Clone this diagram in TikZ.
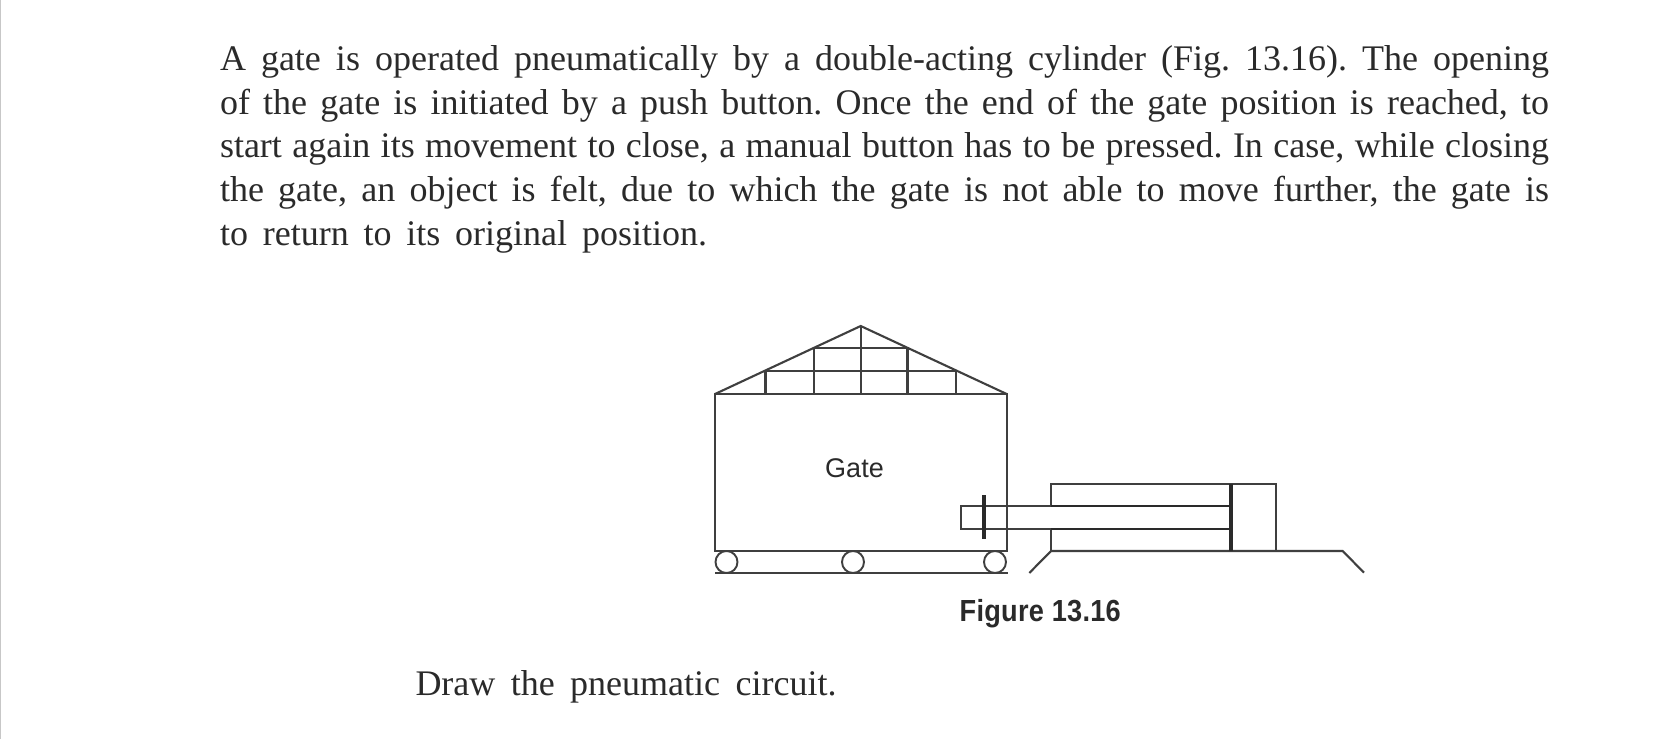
\documentclass[tikz,border=0pt]{standalone}
\usepackage{fontspec}
\setmainfont{Liberation Serif}
\newfontfamily\gatefont{Liberation Sans}
\definecolor{ink}{HTML}{2A2A2A}
\tikzset{
  bodyline/.style={anchor=base west,inner sep=0pt,outer sep=0pt,text=ink,font=\fontsize{36}{43}\selectfont\frenchspacing},
  thinline/.style={draw=ink!90,line width=2.1pt,line join=miter,line cap=butt},
  rodline/.style={draw=ink,line width=2.7pt,line cap=butt},
  thickline/.style={draw=ink,line width=4.4pt},
  roller/.style={draw=ink!90,line width=1.9pt,fill=white}
}
\newcommand{\bline}[2]{\makebox[#1pt][s]{#2}}
\begin{document}
\begin{tikzpicture}[x=1pt,y=-1pt]
\useasboundingbox (0,0) rectangle (1668,739);
\fill[white] (0,0) rectangle (1668,739);
\fill[black!22] (0,0) rectangle (1.2,739);
% text
\node[bodyline] (l1) at (220,70.5) {\bline{1329}{A gate is operated pneumatically by a double-acting cylinder (Fig. 13.16). The opening}};
\node[bodyline] (l2) at (220,114) {\bline{1329}{of the gate is initiated by a push button. Once the end of the gate position is reached, to}};
\node[bodyline] (l3) at (220,157.5) {\bline{1329}{start again its movement to close, a manual button has to be pressed. In case, while closing}};
\node[bodyline] (l4) at (220,201) {\bline{1329}{the gate, an object is felt, due to which the gate is not able to move further, the gate is}};
\node[bodyline] (l5) at (220,245) {\bline{487}{to return to its original position.}};
\node[bodyline] (l6) at (415.5,695) {\bline{421}{Draw the pneumatic circuit.}};
% gate body and roof
\draw[thinline] (715,394) rectangle (1006.7,550.7);
\draw[thinline] (715,394) -- (860.7,326) -- (1006.7,394);
\draw[thinline] (765.5,371) -- (765.5,394);
\draw[thinline] (814.3,348.3) -- (814.3,394);
\draw[thinline] (860.7,326) -- (860.7,394);
\draw[thinline] (907.5,348.3) -- (907.5,394);
\draw[thinline] (956,371) -- (956,394);
\draw[thinline] (765.5,371) -- (956,371);
\draw[thinline] (814.3,348.3) -- (907.5,348.3);
% ground and rollers
\draw[thinline] (715,573.3) -- (1007.5,573.3);
\draw[roller] (726.5,562) circle (11);
\draw[roller] (853,562) circle (11);
\draw[roller] (995,562) circle (11);
\node[anchor=base,inner sep=0pt,text=ink] (gate) at (854.5,477.5) {\gatefont\fontsize{27}{27}\selectfont Gate};
% cylinder
\draw[thinline] (1051,506) -- (1051,484) -- (1276,484) -- (1276,551);
\draw[thinline] (1029.3,573) -- (1051,551) -- (1342.7,551) -- (1364,572.7);
\draw[thinline] (1051,529) -- (1051,551);
\draw[thinline] (1230.7,506) -- (961,506) -- (961,529) -- (1230.7,529);
\draw[rodline] (1051,506) -- (1230.7,506);
\draw[rodline] (1051,529) -- (1230.7,529);
\draw[thickline] (1230.7,484) -- (1230.7,551);
\draw[thickline] (984,495) -- (984,539);
\node[anchor=base west,inner sep=0pt,text=ink,xscale=.89] (fig) at (959.5,621.5) {\gatefont\bfseries\fontsize{30.5}{30.5}\selectfont\addfontfeature{LetterSpace=1}Figure 13.16};
\end{tikzpicture}
\end{document}
